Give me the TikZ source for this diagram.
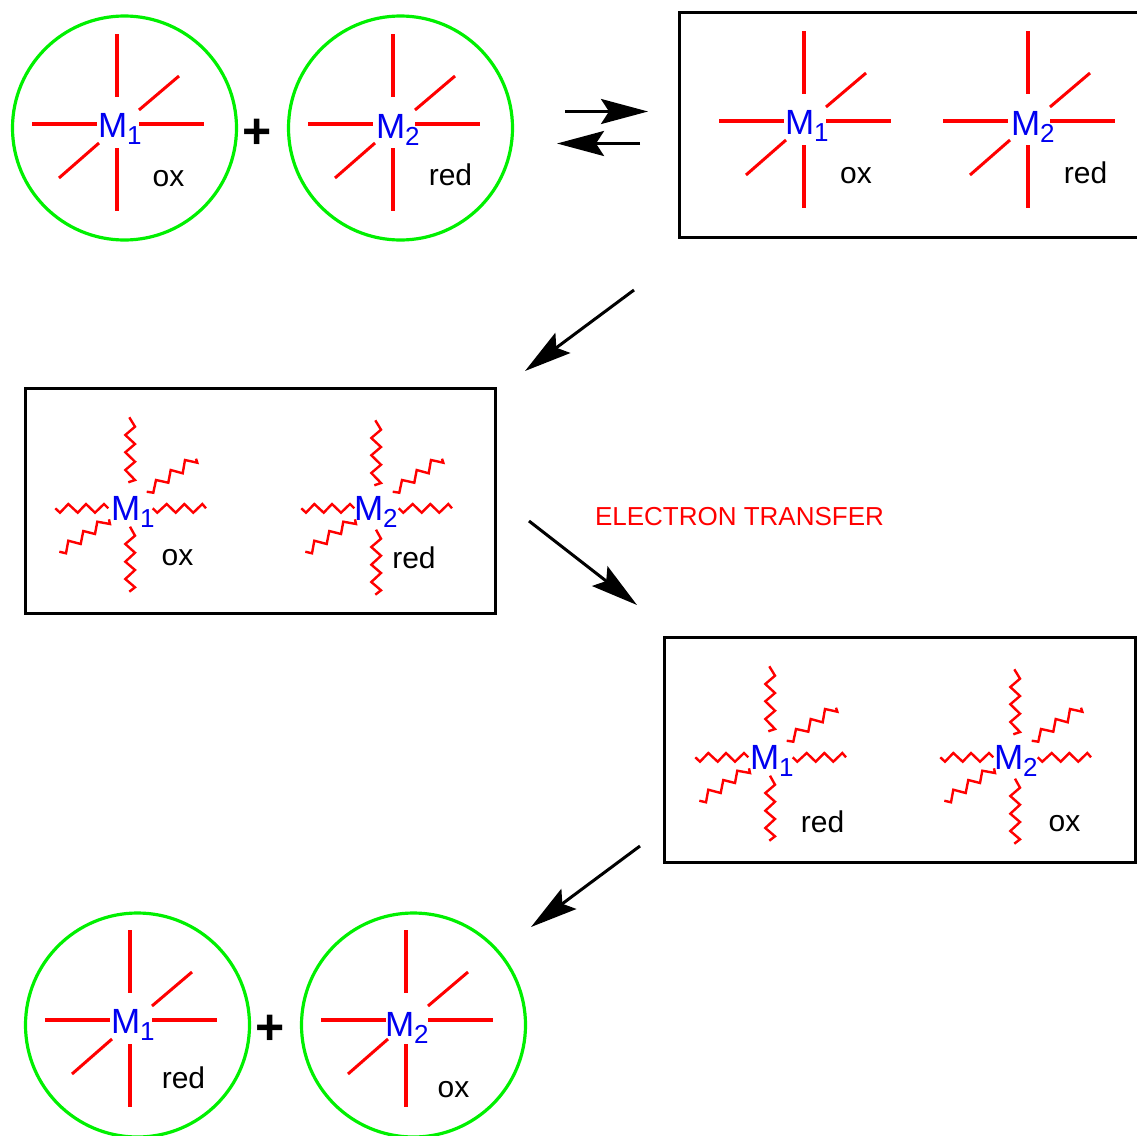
\documentclass[tikz,border=0pt]{standalone}
\usepackage{fontspec}
\setmainfont{Liberation Sans}
\usetikzlibrary{arrows.meta}
\definecolor{ligand}{RGB}{255,0,0}
\definecolor{shell}{RGB}{0,240,0}
\definecolor{metal}{RGB}{0,0,240}
\tikzset{
  x=1pt,y=-1pt,
  bond/.style={draw=ligand,line width=4pt},
  dbond/.style={draw=ligand,line width=3pt},
  wavy/.style={draw=ligand,line width=2.4pt,line join=miter},
  shellc/.style={draw=shell,line width=3.2pt,circle,minimum size=224pt,inner sep=0pt,outer sep=0pt},
  boxr/.style={draw=black,line width=3pt,inner sep=0pt,outer sep=0pt,anchor=north west},
  metalt/.style={text=metal,font=\fontsize{35}{35}\selectfont,anchor=base west,inner sep=0pt,outer sep=0pt},
  statet/.style={text=black,font=\fontsize{30}{30}\selectfont,anchor=base,inner sep=0pt,outer sep=0pt},
  plust/.style={text=black,font=\fontsize{50}{50}\selectfont\bfseries,inner sep=0pt,outer sep=0pt},
  rxn/.style={draw=black,line width=3pt,-{Stealth[length=47pt,width=25pt,inset=8pt,sep=0pt]}},
}
% #1 name  #2 label x  #3 label baseline y  #4 subscript
\newcommand{\metallabel}[4]{%
  \node[metalt] (#1) at (#2-1,#3) {M\raisebox{-7pt}{\fontsize{26}{26}\selectfont #4}};}
% #1 name  #2 centre x  #3 centre y  #4 label x  #5 label baseline y  #6 subscript
\newcommand{\rigidstar}[6]{%
  \begin{scope}[shift={(#2,#3)}]
    \draw[bond] (0,-90) -- (0,-27);
    \draw[bond] (0,24) -- (0,87);
    \draw[bond] (-85,0) -- (-20,0);
    \draw[bond] (22,0) -- (87,0);
    \draw[dbond] (22,-14) -- (62,-48);
    \draw[dbond] (-18,19) -- (-58,54);
  \end{scope}
  \metallabel{#1}{#4}{#5}{#6}}
% #7 vertical-arm offset
\newcommand{\wavystar}[7]{%
  \begin{scope}[shift={(#2,#3)}]
    \draw[wavy] (-.7,-90.7+#7) -- (5,-81.3+#7) -- (-4.7,-73+#7) -- (5,-64+#7) -- (-4.7,-55.7+#7) -- (5,-46.3+#7) -- (-4.7,-38+#7) -- (5,-28+#7) -- (-1.7,-25.7+#7);
    \draw[wavy] (0,18.7+#7) -- (5,27.7+#7) -- (-4.7,36+#7) -- (5,44.7+#7) -- (-4.7,53.7+#7) -- (5,62+#7) -- (-4.7,71+#7) -- (5,79.3+#7) -- (-.7,83.7+#7);
    \draw[wavy] (-74.7,.3) -- (-70,4.7) -- (-61.7,-4) -- (-52.3,4.7) -- (-44,-4) -- (-35,4.7) -- (-26,-4) -- (-21.7,.3);
    \draw[wavy] (22.7,.3) -- (27.3,4.7) -- (36.7,-4) -- (45.7,4.7) -- (54.3,-4) -- (63.3,4.7) -- (72.3,-4) -- (76,.3);
    \draw[wavy] (16.7,-16.3) -- (23.3,-15.3) -- (26,-28) -- (38.3,-25.3) -- (40.7,-38) -- (52.7,-34.7) -- (55,-48) -- (67.3,-45.3) -- (66,-49.3);
    \draw[wavy] (-70.7,43.7) -- (-64,45.3) -- (-61.7,32.7) -- (-49.3,36) -- (-46.7,23) -- (-35,26) -- (-32.7,13.7) -- (-20,16) -- (-21,11.3);
  \end{scope}
  \metallabel{#1}{#4}{#5}{#6}}
\begin{document}
\begin{tikzpicture}
\useasboundingbox (0,0) rectangle (1137,1135);
% top reagents
\node[shellc] (c1) at (124.5,128) {};
\node[shellc] (c2) at (400.5,128) {};
\rigidstar{ma}{117}{124}{99}{137}{1}
\rigidstar{mb}{393}{124}{377}{138}{2}
\node[statet] (sa) at (168.5,186) {ox};
\node[statet] (sb) at (450.5,185) {red};
\node[plust] (pa) at (257,134) {+};
% equilibrium arrows
\coordinate (e1s) at (565,111.5);
\coordinate (e1t) at (648,111.5);
\coordinate (e2s) at (640,143.5);
\coordinate (e2t) at (557,143.5);
\draw[rxn] (e1s) -- (e1t);
\draw[rxn] (e2s) -- (e2t);
% encounter complex
\node[boxr,minimum width=470pt,minimum height=225pt] (bx1) at (679,12) {};
\rigidstar{mc}{804}{121}{786}{134}{1}
\rigidstar{md}{1028}{121}{1012}{135}{2}
\node[statet] (sc) at (856,183) {ox};
\node[statet] (sd) at (1085.5,183) {red};
% arrow to box 2
\coordinate (a1s) at (634,290);
\coordinate (a1t) at (525,371);
\draw[rxn] (a1s) -- (a1t);
% activated complex
\node[boxr,minimum width=470pt,minimum height=225pt] (bx2) at (25,388) {};
\wavystar{me}{130}{508}{112}{520}{1}{0}
\wavystar{mf}{376}{508}{355}{520}{2}{3}
\node[statet] (se) at (177.5,565) {ox};
\node[statet] (sf) at (414,568) {red};
% electron transfer
\coordinate (a2s) at (529,521);
\coordinate (a2t) at (637,605);
\draw[rxn] (a2s) -- (a2t);
\node[text=ligand,font=\fontsize{26}{26}\selectfont,inner sep=0pt] (et) at (739.5,517) {ELECTRON TRANSFER};
% successor complex
\node[boxr,minimum width=471pt,minimum height=225pt] (bx3) at (664,637) {};
\wavystar{mg}{770}{757}{751}{769}{1}{0}
\wavystar{mh}{1015}{757}{995}{769}{2}{3}
\node[statet] (sg) at (822.5,832) {red};
\node[statet] (sh) at (1064.5,831) {ox};
% arrow to products
\coordinate (a3s) at (640,846);
\coordinate (a3t) at (531,927);
\draw[rxn] (a3s) -- (a3t);
% products
\node[shellc] (c3) at (137.5,1025) {};
\node[shellc] (c4) at (413.5,1025) {};
\rigidstar{mi}{130}{1020}{112}{1033}{1}
\rigidstar{mj}{406}{1020}{386}{1036}{2}
\node[statet] (si) at (183.5,1088) {red};
\node[statet] (sj) at (453.5,1097) {ox};
\node[plust] (pb) at (270,1030) {+};
\end{tikzpicture}
\end{document}
